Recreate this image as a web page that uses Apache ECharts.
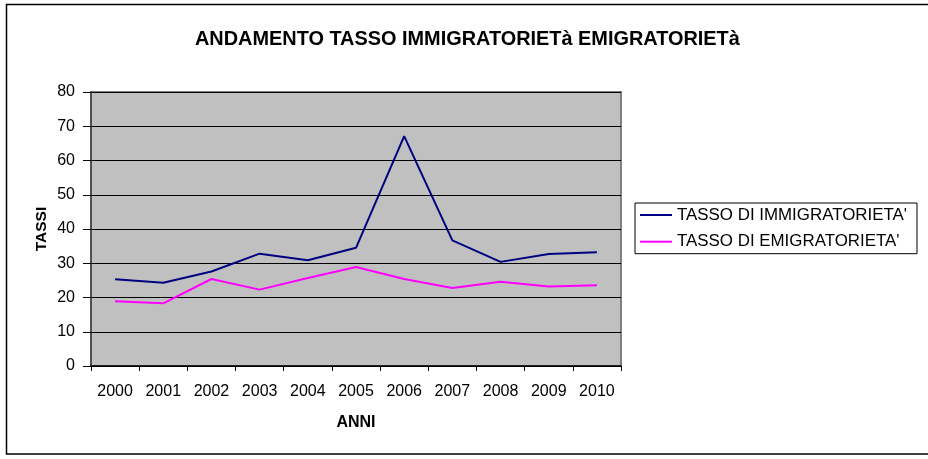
<!DOCTYPE html>
<html>
<head>
<meta charset="utf-8">
<script src="https://cdn.jsdelivr.net/npm/echarts@6/dist/echarts.min.js"></script>
<style>
html,body{margin:0;padding:0;background:#fff;}
#chart{width:928px;height:459px;}
</style>
</head>
<body>
<div id="chart"></div>
<script>
var years = ['2000','2001','2002','2003','2004','2005','2006','2007','2008','2009','2010'];
var immigrazione = [25.3, 24.3, 27.6, 32.8, 30.9, 34.5, 67.1, 36.7, 30.4, 32.7, 33.2];
var emigrazione = [18.9, 18.3, 25.4, 22.3, 25.7, 28.9, 25.4, 22.8, 24.6, 23.2, 23.6];
var seriesNames = ["TASSO DI IMMIGRATORIETA'", "TASSO DI EMIGRATORIETA'"];
var titleText = 'ANDAMENTO TASSO IMMIGRATORIETà EMIGRATORIETà';

var chart = echarts.init(document.getElementById('chart'), null, {renderer: 'canvas'});
var font = 'Liberation Sans, Arial, sans-serif';
chart.setOption({
  animation: false,
  backgroundColor: '#fff',
  textStyle: {fontFamily: font},
  graphic: [{
    type: 'rect',
    shape: {x: 6.5, y: 4.5, width: 1000, height: 449.5},
    style: {fill: 'none', stroke: '#000', lineWidth: 1.5},
    silent: true
  }],
  title: {
    text: titleText,
    left: 190, top: 25,
    textStyle: {fontFamily: font, fontSize: 19.9, fontWeight: 'bold', color: '#000'}
  },
  legend: {
    orient: 'vertical',
    left: 635, top: 203,
    padding: [3, 10, 3, 5],
    itemGap: 8.7,
    itemWidth: 32, itemHeight: 2,
    icon: 'rect',
    borderColor: '#000', borderWidth: 1,
    textStyle: {fontFamily: font, fontSize: 16.9, color: '#000', lineHeight: 18},
    data: seriesNames
  },
  grid: {left: 91, right: 307, top: 92, bottom: 93, show: true, backgroundColor: '#C0C0C0', borderColor: '#808080', borderWidth: 2},
  xAxis: {
    type: 'category',
    data: years,
    boundaryGap: true,
    name: 'ANNI',
    nameLocation: 'middle',
    nameGap: 49,
    nameMoveOverlap: false,
    nameTextStyle: {fontFamily: font, fontSize: 16, fontWeight: 'bold', color: '#000'},
    axisLine: {lineStyle: {color: '#000', width: 1.5}},
    axisTick: {show: true, length: 5, lineStyle: {color: '#000'}},
    axisLabel: {fontFamily: font, fontSize: 16, color: '#000', margin: 18},
    splitLine: {show: false}
  },
  yAxis: {
    type: 'value',
    min: 0, max: 80, interval: 10,
    name: 'TASSI',
    nameLocation: 'middle',
    nameGap: 41,
    nameMoveOverlap: false,
    nameRotate: 90,
    nameTextStyle: {fontFamily: font, fontSize: 15.5, fontWeight: 'bold', color: '#000'},
    axisLine: {show: true, lineStyle: {color: '#404040', width: 1.5}},
    axisTick: {show: true, length: 8, lineStyle: {color: '#000'}},
    axisLabel: {fontFamily: font, fontSize: 16, color: '#000', margin: 16},
    splitLine: {show: true, lineStyle: {color: '#000', width: 1}}
  },
  series: [
    {
      name: seriesNames[0], type: 'line', data: immigrazione,
      symbol: 'none', lineStyle: {color: '#000080', width: 2}, itemStyle: {color: '#000080'}
    },
    {
      name: seriesNames[1], type: 'line', data: emigrazione,
      symbol: 'none', lineStyle: {color: '#FF00FF', width: 2}, itemStyle: {color: '#FF00FF'}
    }
  ]
});
</script>
</body>
</html>
